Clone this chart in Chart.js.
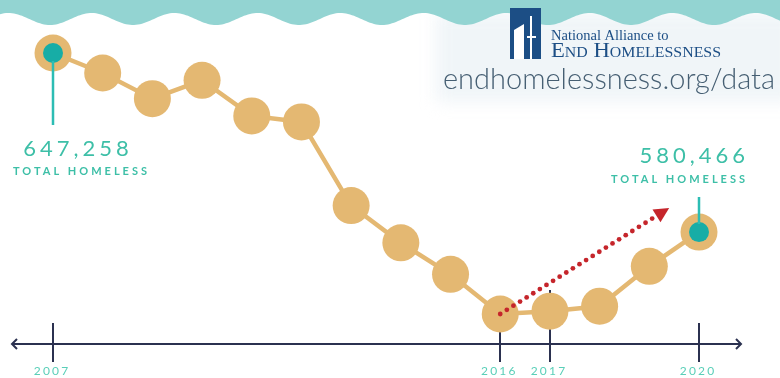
<!DOCTYPE html>
<html>
<head>
<meta charset="utf-8">
<script src="https://cdn.jsdelivr.net/npm/chart.js@4"></script>
<style>
  html, body { margin: 0; padding: 0; background: #ffffff; }
  #c { display: block; }
</style>
</head>
<body>
<canvas id="c" width="780" height="378"></canvas>
<script>
// ---- data ----
const years = [2007, 2008, 2009, 2010, 2011, 2012, 2013, 2014, 2015, 2016, 2017, 2018, 2019, 2020];
const totalHomeless = [647258, 639784, 630227, 637077, 623788, 621553, 590364, 576450, 564708, 549928, 550996, 552830, 567715, 580466];
const axisTickYears = [2007, 2016, 2017, 2020];
const highlightYears = [2007, 2020];
const calloutNumbers = ['647,258', '580,466'];
const calloutCaption = 'TOTAL HOMELESS';
const trendArrowFrom = [2016, 549928];
const trendArrowTo = [2019.4, 589500];
const logoLine1 = 'National Alliance to';
const logoLine2 = 'End Homelessness';
const sourceUrl = 'endhomelessness.org/data';

// ---- colours ----
const TAN = '#E4B872';
const TEAL_DOT = '#17ADA6';
const TEAL_TEXT = '#3DBFA7';
const TEAL_STEM = '#2CBDB4';
const NAVY = '#2B3150';
const RED = '#C5252B';
const WAVE = '#93D4D2';
const LOGO_BLUE = '#1C4E85';

const lineData = years.map((y, i) => ({ x: y, y: totalHomeless[i] }));
const highlightData = highlightYears.map(y => ({ x: y, y: totalHomeless[years.indexOf(y)] }));

function spacedText(ctx, text, x, y, spacing, align) {
  ctx.save();
  ctx.letterSpacing = spacing + 'px';
  const w = ctx.measureText(text).width - spacing;
  let sx = x;
  if (align === 'center') sx = x - w / 2;
  else if (align === 'right') sx = x - w;
  ctx.textAlign = 'left';
  ctx.fillText(text, sx, y);
  ctx.restore();
}

const decor = {
  id: 'decor',
  beforeDraw(chart) {
    const ctx = chart.ctx;
    const W = chart.width;
    ctx.save();
    ctx.fillStyle = '#ffffff';
    ctx.fillRect(0, 0, W, chart.height);

    // soft panel behind logo
    ctx.filter = 'blur(8px)';
    ctx.fillStyle = 'rgba(230,238,243,0.6)';
    ctx.fillRect(436, 12, 360, 90);
    ctx.filter = 'none';

    // wavy band at top
    ctx.fillStyle = WAVE;
    ctx.beginPath();
    ctx.moveTo(0, 0);
    ctx.lineTo(W, 0);
    for (let x = W; x >= 0; x -= 2) {
      const y = 19 + 6 * Math.cos(2 * Math.PI * (x - 50) / 83);
      ctx.lineTo(x, y);
    }
    ctx.closePath();
    ctx.fill();

    // logo mark
    ctx.fillStyle = LOGO_BLUE;
    ctx.fillRect(510, 8, 31, 51);
    ctx.fillStyle = '#ffffff';
    ctx.beginPath();
    ctx.moveTo(514, 59); ctx.lineTo(514, 30); ctx.lineTo(524, 24); ctx.lineTo(524, 59);
    ctx.closePath();
    ctx.fill();
    ctx.fillRect(530, 16, 2, 43);
    ctx.fillRect(527, 36, 9, 2);

    // logo text
    ctx.fillStyle = LOGO_BLUE;
    ctx.textBaseline = 'alphabetic';
    ctx.font = '14.5px "Liberation Serif"';
    ctx.fillText(logoLine1, 551, 40);
    ctx.font = 'small-caps 20px "Liberation Serif"';
    let w2 = ctx.measureText(logoLine2).width;
    ctx.save();
    ctx.translate(551, 57);
    ctx.scale(170 / w2, 1);
    ctx.fillText(logoLine2, 0, 0);
    ctx.restore();

    // url
    ctx.fillStyle = '#465F73';
    ctx.font = '300 27px Lato';
    const wu = ctx.measureText(sourceUrl).width;
    const fs = 27 * 332 / wu;
    ctx.font = '300 ' + fs.toFixed(2) + 'px Lato';
    ctx.fillText(sourceUrl, 443, 89);
    ctx.restore();
  },
  beforeDatasetsDraw(chart) {
    const ctx = chart.ctx;
    const xs = chart.scales.x;
    const axisY = chart.chartArea.bottom;
    ctx.save();
    ctx.strokeStyle = NAVY;
    ctx.lineWidth = 2;
    ctx.lineCap = 'butt';
    ctx.beginPath();
    ctx.moveTo(12, axisY);
    ctx.lineTo(741, axisY);
    ctx.stroke();
    ctx.lineJoin = 'miter';
    ctx.beginPath();
    ctx.moveTo(17, axisY - 5); ctx.lineTo(12, axisY); ctx.lineTo(17, axisY + 5);
    ctx.moveTo(736, axisY - 5); ctx.lineTo(741, axisY); ctx.lineTo(736, axisY + 5);
    ctx.stroke();
    axisTickYears.forEach(yr => {
      const px = Math.round(xs.getPixelForValue(yr));
      ctx.beginPath();
      ctx.moveTo(px, yr === 2017 ? axisY - 54 : axisY - 21);
      ctx.lineTo(px, axisY + 18);
      ctx.stroke();
    });
    ctx.fillStyle = '#5ACFB8';
    ctx.font = '12px Lato';
    ctx.textBaseline = 'alphabetic';
    axisTickYears.forEach(yr => {
      const px = xs.getPixelForValue(yr);
      spacedText(ctx, String(yr), px - 2, axisY + 31, 2.2, 'center');
    });
    ctx.restore();
  },
  afterDatasetsDraw(chart) {
    const ctx = chart.ctx;
    const xs = chart.scales.x, ys = chart.scales.y;
    const meta = chart.getDatasetMeta(0);
    ctx.save();
    // stems
    ctx.strokeStyle = TEAL_STEM;
    ctx.lineWidth = 2.5;
    const p0 = meta.data[0], p1 = meta.data[1];
    ctx.beginPath();
    ctx.moveTo(p0.x, p0.y + 8); ctx.lineTo(p0.x, 125);
    ctx.moveTo(p1.x, p1.y - 8); ctx.lineTo(p1.x, 197);
    ctx.stroke();
    // callout texts
    ctx.fillStyle = TEAL_TEXT;
    ctx.textBaseline = 'alphabetic';
    ctx.font = '22px Lato';
    spacedText(ctx, calloutNumbers[0], p0.x + 23, 156, 4, 'center');
    spacedText(ctx, calloutNumbers[1], p1.x + 46, 163, 4, 'right');
    ctx.font = 'bold 11px Lato';
    spacedText(ctx, calloutCaption, p0.x + 27, 175, 3, 'center');
    spacedText(ctx, calloutCaption, p1.x + 46, 183, 3, 'right');

    // red dotted trend arrow
    const ax = xs.getPixelForValue(trendArrowFrom[0]);
    const ay = ys.getPixelForValue(trendArrowFrom[1]);
    const bx = xs.getPixelForValue(trendArrowTo[0]);
    const by = ys.getPixelForValue(trendArrowTo[1]);
    const dx = bx - ax, dy = by - ay;
    const len = Math.hypot(dx, dy);
    const ux = dx / len, uy = dy / len;
    const headLen = 15;
    ctx.fillStyle = RED;
    for (let d = 0; d <= len - headLen - 2; d += 7.8) {
      ctx.beginPath();
      ctx.arc(ax + ux * d, ay + uy * d, 2.4, 0, Math.PI * 2);
      ctx.fill();
    }
    const nx = -uy, ny = ux;
    const baseX = bx - ux * headLen, baseY = by - uy * headLen;
    ctx.beginPath();
    ctx.moveTo(bx, by);
    ctx.lineTo(baseX + nx * 7.5, baseY + ny * 7.5);
    ctx.lineTo(baseX - nx * 7.5, baseY - ny * 7.5);
    ctx.closePath();
    ctx.fill();
    ctx.restore();
  }
};

new Chart(document.getElementById('c'), {
  type: 'line',
  data: {
    datasets: [
      {
        label: 'highlight',
        data: highlightData,
        showLine: false,
        pointRadius: 10,
        pointHoverRadius: 10,
        pointBackgroundColor: TEAL_DOT,
        pointBorderWidth: 0,
        clip: false
      },
      {
        label: 'Total homeless',
        data: lineData,
        borderColor: TAN,
        borderWidth: 4.5,
        pointRadius: 18.5,
        pointHoverRadius: 18.5,
        pointBackgroundColor: TAN,
        pointBorderWidth: 0,
        tension: 0,
        clip: false
      }
    ]
  },
  options: {
    responsive: false,
    animation: false,
    devicePixelRatio: 1,
    layout: { padding: { left: 53, right: 81, top: 20, bottom: 34 } },
    plugins: { legend: { display: false }, tooltip: { enabled: false } },
    events: [],
    scales: {
      x: { type: 'linear', display: false, min: 2007, max: 2020 },
      y: { type: 'linear', display: false, min: 538740, max: 659560 }
    }
  },
  plugins: [decor]
});
</script>
</body>
</html>
